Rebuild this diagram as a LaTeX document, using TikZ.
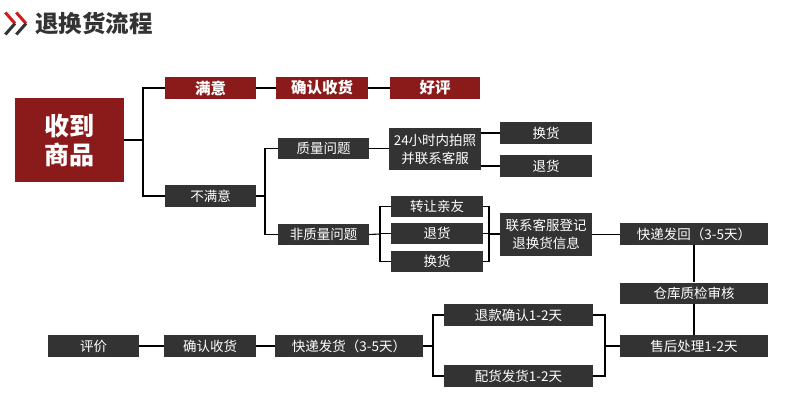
\documentclass[tikz,border=0pt]{standalone}
\usepackage{fontspec}
\setmainfont{Noto Sans CJK SC}
\definecolor{dred}{HTML}{8B1A1A}
\definecolor{dgray}{HTML}{333333}
\definecolor{chred}{HTML}{D01C1C}
\begin{document}
\begin{tikzpicture}[x=1pt,y=-1pt,
  box/.style={fill=dgray,text=white,inner sep=0pt,font=\fontsize{13.5}{15}\selectfont,align=center},
  rbox/.style={fill=dred,text=white,inner sep=0pt,font=\fontsize{15.5}{17}\selectfont\bfseries,align=center},
  conn/.style={draw=black,line width=1.1pt}]
\useasboundingbox (0,0) rectangle (785,417);
% title
\draw[chred,line width=3pt] (5.3,12.5) -- (15,23.5);
\draw[dgray,line width=3pt] (15,23.5) -- (5.3,34.5);
\draw[chred,line width=3pt] (16.3,12.5) -- (26,23.5);
\draw[dgray,line width=3pt] (26,23.5) -- (16.3,34.5);
\node[anchor=west,text=dgray,inner sep=0pt,font=\fontsize{23.5}{25}\selectfont\bfseries] (title) at (35,23.5) {退换货流程};
% boxes
\node[rbox,minimum width=109,minimum height=84,font=\fontsize{25}{29}\selectfont\bfseries] (big) at (69.5,140) {收到\\商品};
\node[rbox,minimum width=91,minimum height=22] (m1) at (210.5,88) {满意};
\node[rbox,minimum width=92,minimum height=22] (m2) at (322,88) {确认收货};
\node[rbox,minimum width=90,minimum height=22] (m3) at (435,88) {好评};
\node[box,minimum width=91,minimum height=22] (bm) at (210.5,196) {不满意};
\node[box,minimum width=91,minimum height=21] (zl) at (323.5,148.5) {质量问题};
\node[box,minimum width=91,minimum height=21] (fzl) at (323.5,234.5) {非质量问题};
\node[box,minimum width=92,minimum height=42,font=\fontsize{13.5}{18}\selectfont] (p24) at (435,149) {24小时内拍照\\并联系客服};
\node[box,minimum width=92,minimum height=22] (hh1) at (546,133) {换货};
\node[box,minimum width=92,minimum height=22] (th1) at (546,166) {退货};
\node[box,minimum width=92,minimum height=21] (zr) at (437,206.5) {转让亲友};
\node[box,minimum width=92,minimum height=21] (th2) at (437,233.5) {退货};
\node[box,minimum width=92,minimum height=21] (hh2) at (437,261.5) {换货};
\node[box,minimum width=92,minimum height=43,font=\fontsize{13.5}{18}\selectfont] (lx) at (546,234.5) {联系客服登记\\退换货信息};
\node[box,minimum width=148,minimum height=22] (kdfh) at (694,234) {快递发回（3-5天）};
\node[box,minimum width=148,minimum height=21] (ck) at (694,293) {仓库质检审核};
\node[box,minimum width=148,minimum height=22] (sh) at (694,346) {售后处理1-2天};
\node[box,minimum width=149,minimum height=22] (tk) at (518.5,315) {退款确认1-2天};
\node[box,minimum width=149,minimum height=22] (ph) at (518.5,376) {配货发货1-2天};
\node[box,minimum width=148,minimum height=22] (kdfhuo) at (349,346) {快递发货（3-5天）};
\node[box,minimum width=92,minimum height=22] (qr) at (210,346) {确认收货};
\node[box,minimum width=91,minimum height=22] (pj) at (93.5,346) {评价};
% junction coordinates
\coordinate (b1) at (143,140);
\coordinate (b2) at (265,196);
\coordinate (b3) at (380,234);
\coordinate (b4) at (489,234);
\coordinate (b5) at (605,346);
\coordinate (b6) at (433,346);
% connectors
\draw[conn] (big.east) -- (b1);
\draw[conn] (m1.west) -- (m1.west -| b1) -- (bm.west -| b1) -- (bm.west);
\draw[conn] (m1.east) -- (m2.west);
\draw[conn] (m2.east) -- (m3.west);
\draw[conn] (bm.east) -- (b2);
\draw[conn] (zl.west) -- (zl.west -| b2) -- (fzl.west -| b2) -- (fzl.west);
\draw[conn] (zl.east) -- (zl.east -| p24.west);
\draw[conn] (p24.east |- hh1) -- (hh1.west);
\draw[conn] (p24.east |- th1) -- (th1.west);
\draw[conn] (fzl.east) -- (b3);
\draw[conn] (zr.west) -- (zr.west -| b3) -- (hh2.west -| b3) -- (hh2.west);
\draw[conn] (th2.west) -- (th2.west -| b3);
\draw[conn] (zr.east) -- (zr.east -| b4) -- (hh2.east -| b4) -- (hh2.east);
\draw[conn] (th2.east) -- (th2.east -| b4);
\draw[conn] (b4) -- (b4 -| lx.west);
\draw[conn] (lx.east) -- (lx.east -| kdfh.west);
\draw[conn] (kdfh.south) -- (ck.north);
\draw[conn] (ck.south) -- (sh.north);
\draw[conn] (sh.west) -- (b5);
\draw[conn] (tk.east) -- (tk.east -| b5) -- (ph.east -| b5) -- (ph.east);
\draw[conn] (tk.west) -- (tk.west -| b6) -- (ph.west -| b6) -- (ph.west);
\draw[conn] (kdfhuo.east) -- (b6);
\draw[conn] (kdfhuo.west) -- (qr.east);
\draw[conn] (qr.west) -- (pj.east);
\end{tikzpicture}
\end{document}
